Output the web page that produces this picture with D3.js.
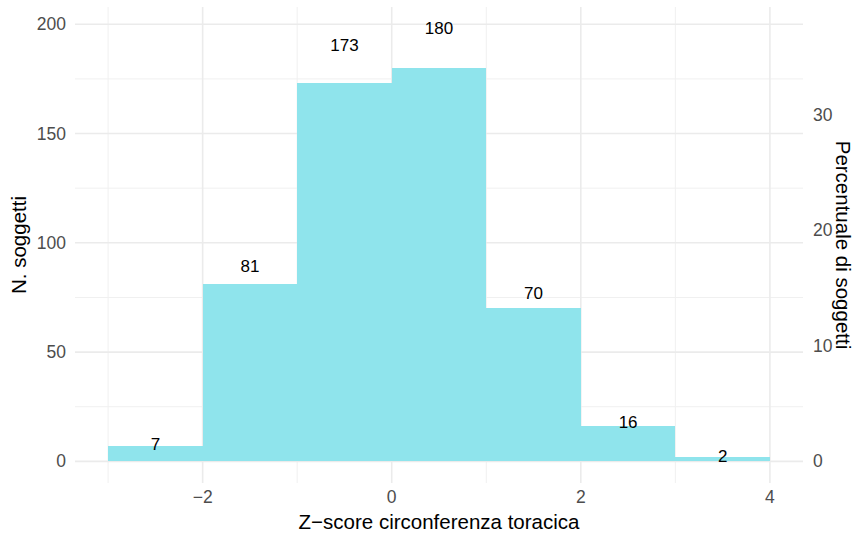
<!DOCTYPE html>
<html>
<head>
<meta charset="utf-8">
<script src="https://cdn.jsdelivr.net/npm/d3@7"></script>
<style>
  body { margin: 0; background: #fff; }
  svg { display: block; font-family: "Liberation Sans", Arial, Helvetica, sans-serif; }
</style>
</head>
<body>
<svg id="chart" width="855" height="535"></svg>
<script>
// ---- data ----
const binEdges = [-3, -2, -1, 0, 1, 2, 3, 4];
const counts = [7, 81, 173, 180, 70, 16, 2];
const xTicks = [-2, 0, 2, 4];
const xMinorTicks = [-3, -1, 1, 3];
const yTicks = [0, 50, 100, 150, 200];
const yMinorTicks = [25, 75, 125, 175];
const pctTicks = [0, 10, 20, 30];
const xTitle = "Z\u2212score circonferenza toracica";
const yTitle = "N. soggetti";
const y2Title = "Percentuale di soggetti";

const total = d3.sum(counts);
const bins = counts.map((c, i) => ({ x0: binEdges[i], x1: binEdges[i + 1], count: c }));

const svg = d3.select("#chart");
const panel = { left: 75, right: 803, top: 7, bottom: 483 };

const x = d3.scaleLinear().domain([-3.35, 4.35]).range([panel.left, panel.right]);
const y = d3.scaleLinear().domain([-9.9, 207.9]).range([panel.bottom, panel.top]);
const yPct = d3.scaleLinear()
  .domain([y.domain()[0] / total * 100, y.domain()[1] / total * 100])
  .range([panel.bottom, panel.top]);

const fmtMinus = d => (d < 0 ? "\u2212" + Math.abs(d) : String(d));

// grid
const g = svg.append("g");
g.selectAll(".ymin").data(yMinorTicks).join("line")
  .attr("x1", panel.left).attr("x2", panel.right)
  .attr("y1", d => y(d)).attr("y2", d => y(d))
  .attr("stroke", "#f0f0f0").attr("stroke-width", 1);
g.selectAll(".xmin").data(xMinorTicks).join("line")
  .attr("y1", panel.top).attr("y2", panel.bottom)
  .attr("x1", d => x(d)).attr("x2", d => x(d))
  .attr("stroke", "#f0f0f0").attr("stroke-width", 1);
g.selectAll(".ymaj").data(yTicks).join("line")
  .attr("x1", panel.left).attr("x2", panel.right)
  .attr("y1", d => y(d)).attr("y2", d => y(d))
  .attr("stroke", "#ebebeb").attr("stroke-width", 1.6);
g.selectAll(".xmaj").data(xTicks).join("line")
  .attr("y1", panel.top).attr("y2", panel.bottom)
  .attr("x1", d => x(d)).attr("x2", d => x(d))
  .attr("stroke", "#ebebeb").attr("stroke-width", 1.6);

// bars
svg.append("g").attr("shape-rendering", "crispEdges")
  .selectAll("rect").data(bins).join("rect")
  .attr("x", d => x(d.x0))
  .attr("width", d => x(d.x1) - x(d.x0))
  .attr("y", d => y(d.count))
  .attr("height", d => y(0) - y(d.count))
  .attr("fill", "#8fe4ec");

// labels
svg.append("g").selectAll("text").data(bins).join("text")
  .attr("x", d => x((d.x0 + d.x1) / 2))
  .attr("y", d => y(d.count * 1.1))
  .attr("text-anchor", "middle")
  .attr("dominant-baseline", "central")
  .attr("font-size", 17)
  .attr("fill", "#000")
  .text(d => d.count);

// left axis labels
svg.append("g").selectAll("text").data(yTicks).join("text")
  .attr("x", 66).attr("y", d => y(d))
  .attr("text-anchor", "end").attr("dominant-baseline", "central")
  .attr("font-size", 17.5).attr("fill", "#4d4d4d")
  .text(d => d);

// right axis labels
svg.append("g").selectAll("text").data(pctTicks).join("text")
  .attr("x", 813).attr("y", d => yPct(d))
  .attr("text-anchor", "start").attr("dominant-baseline", "central")
  .attr("font-size", 17.5).attr("fill", "#4d4d4d")
  .text(d => d);

// x axis labels
svg.append("g").selectAll("text").data(xTicks).join("text")
  .attr("x", d => x(d)).attr("y", 497)
  .attr("text-anchor", "middle").attr("dominant-baseline", "central")
  .attr("font-size", 17.5).attr("fill", "#4d4d4d")
  .text(fmtMinus);

// titles
const pcx = (panel.left + panel.right) / 2, pcy = (panel.top + panel.bottom) / 2;
svg.append("text")
  .attr("x", pcx).attr("y", 521)
  .attr("text-anchor", "middle").attr("dominant-baseline", "central")
  .attr("font-size", 20.5).attr("fill", "#000")
  .text(xTitle);
svg.append("text")
  .attr("transform", `translate(18,${pcy}) rotate(-90)`)
  .attr("text-anchor", "middle").attr("dominant-baseline", "central")
  .attr("font-size", 20.5).attr("fill", "#000")
  .text(yTitle);
svg.append("text")
  .attr("transform", `translate(843,${pcy}) rotate(90)`)
  .attr("text-anchor", "middle").attr("dominant-baseline", "central")
  .attr("font-size", 20.5).attr("fill", "#000")
  .text(y2Title);
</script>
</body>
</html>
